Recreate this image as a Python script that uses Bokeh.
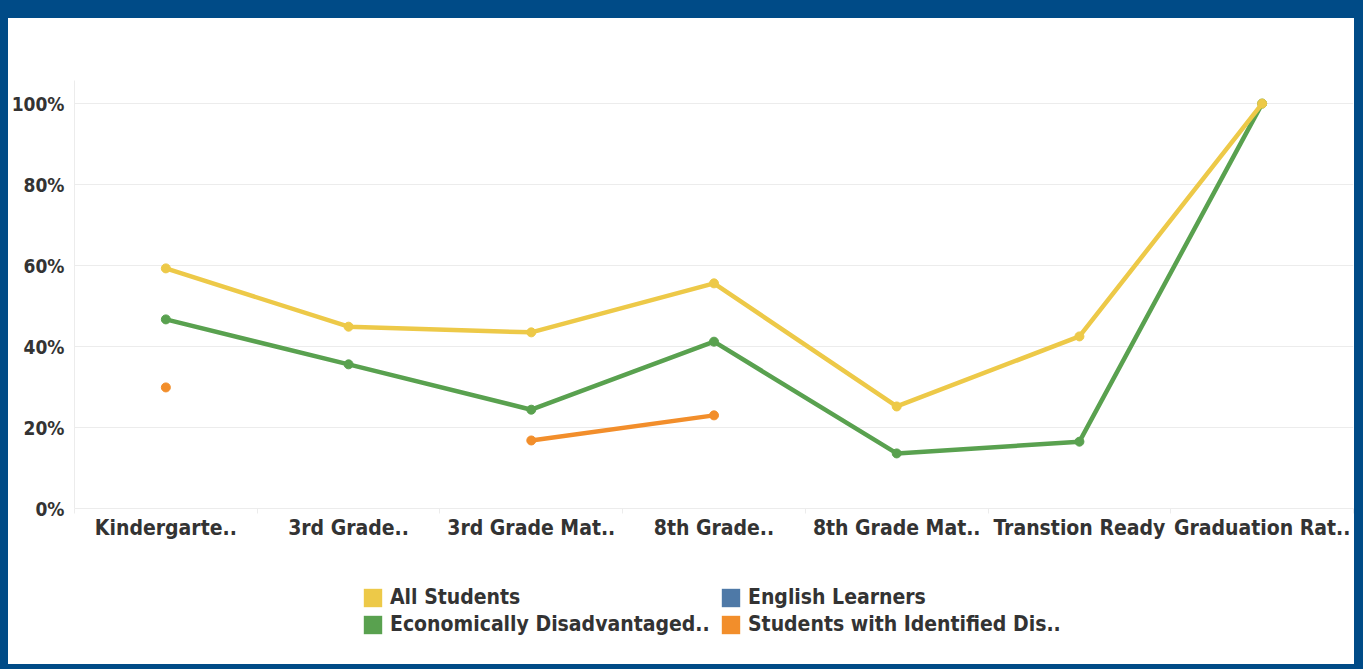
from bokeh.plotting import figure
from bokeh.models import Range1d, FixedTicker, PrintfTickFormatter, Legend, LegendItem
from bokeh.layouts import column
from bokeh.embed import file_html
from bokeh.resources import INLINE
import numpy as np

# ---- data ----
categories = ["Kindergarte..", "3rd Grade..", "3rd Grade Mat..", "8th Grade..",
              "8th Grade Mat..", "Transtion Ready", "Graduation Rat.."]
all_students = [59.3, 44.9, 43.5, 55.6, 25.2, 42.5, 100.0]
english_learners = [None, None, None, None, None, None, None]
econ_disadvantaged = [46.7, 35.6, 24.4, 41.2, 13.6, 16.5, 100.0]
students_disab = [29.9, None, 16.8, 23.0, None, None, None]
series_names = ["All Students", "English Learners", "Economically Disadvantaged..",
                "Students with Identified Dis.."]
series_colors = ["#EDC948", "#4E79A7", "#59A14F", "#F28E2B"]
y_ticks = [0, 20, 40, 60, 80, 100]

FONT = "DejaVu Sans Condensed"
TXT = "#333333"
GRID = "#ececec"

xs = list(range(len(categories)))

p = figure(width=1346, height=552, output_backend="svg", toolbar_location=None,
           x_range=Range1d(-0.5, len(categories) - 0.5), y_range=Range1d(0, 105.7),
           min_border_left=66, min_border_right=1, min_border_top=62, min_border_bottom=62)
p.background_fill_color = "white"
p.border_fill_color = "white"
p.outline_line_color = None
p.styles = {"background-color": "white"}

# grid
p.xgrid.grid_line_color = None
p.ygrid.grid_line_color = GRID
p.ygrid.ticker = FixedTicker(ticks=y_ticks[1:])

# axes
p.xaxis.ticker = FixedTicker(ticks=xs, minor_ticks=[i - 0.5 for i in range(len(categories) + 1)])
p.xaxis.major_label_overrides = {i: c for i, c in enumerate(categories)}
p.xaxis.axis_line_color = GRID
p.xaxis.major_tick_line_color = None
p.xaxis.major_tick_out = 0
p.xaxis.major_tick_in = 0
p.xaxis.minor_tick_line_color = GRID
p.xaxis.minor_tick_out = 5
p.xaxis.minor_tick_in = 0
p.xaxis.major_label_standoff = 2
p.xaxis.major_label_text_font = FONT
p.xaxis.major_label_text_font_style = "bold"
p.xaxis.major_label_text_font_size = "21px"
p.xaxis.major_label_text_color = TXT

p.yaxis.ticker = FixedTicker(ticks=y_ticks)
p.yaxis.formatter = PrintfTickFormatter(format="%d%%")
p.yaxis.axis_line_color = GRID
p.yaxis.major_tick_line_color = None
p.yaxis.minor_tick_line_color = None
p.yaxis.major_tick_out = 0
p.yaxis.major_tick_in = 0
p.yaxis.major_label_standoff = 10
p.yaxis.major_label_text_font = FONT
p.yaxis.major_label_text_font_style = "bold"
p.yaxis.major_label_text_font_size = "19px"
p.yaxis.major_label_text_color = TXT

# series (drawn bottom to top)
series_vals = [all_students, english_learners, econ_disadvantaged, students_disab]
for idx in [3, 1, 2, 0]:
    ys = np.array(series_vals[idx], dtype=float)
    if np.all(np.isnan(ys)):
        continue
    c = series_colors[idx]
    p.line(xs, ys, line_color=c, line_width=4.5, line_join="round", line_cap="round")
    mask = ~np.isnan(ys)
    p.scatter(np.array(xs)[mask], ys[mask], size=9, fill_color=c, line_color=c)

# legend panel below the chart (frame is aligned with the chart frame)
lf = figure(width=1346, height=94, output_backend="svg", toolbar_location=None,
            x_range=Range1d(0, 1), y_range=Range1d(0, 1),
            x_axis_location=None, y_axis_location=None,
            min_border_left=0, min_border_right=0, min_border_top=0, min_border_bottom=0)
lf.grid.visible = False
lf.outline_line_color = None
lf.background_fill_color = "white"
lf.border_fill_color = "white"
lf.styles = {"background-color": "white"}

items = []
for name, c in zip(series_names, series_colors):
    # swatch-only renderer (NaN geometry: nothing drawn in the panel itself)
    r = lf.quad(left=[np.nan], right=[np.nan], top=[np.nan], bottom=[np.nan],
                fill_color=c, line_color=None)
    items.append(LegendItem(label=name, renderers=[r]))
legend = Legend(items=items, orientation="horizontal", ncols=2, location=(287, 28),
                glyph_width=23, glyph_height=23, label_standoff=6, spacing=3,
                label_width=326,
                padding=0, margin=0, border_line_color=None, background_fill_alpha=0,
                label_text_font=FONT, label_text_font_style="bold",
                label_text_font_size="21px", label_text_color=TXT)
lf.add_layout(legend)

layout = column(p, lf, spacing=0)

template = """
{% block inner_head %}
{{ super() }}
<style>html, body { background: #004B87; margin: 0 !important; } body { padding: 18px 0 0 8px !important; }</style>
{% endblock %}
"""

open("out.html", "w").write(file_html(layout, INLINE, template=template))
